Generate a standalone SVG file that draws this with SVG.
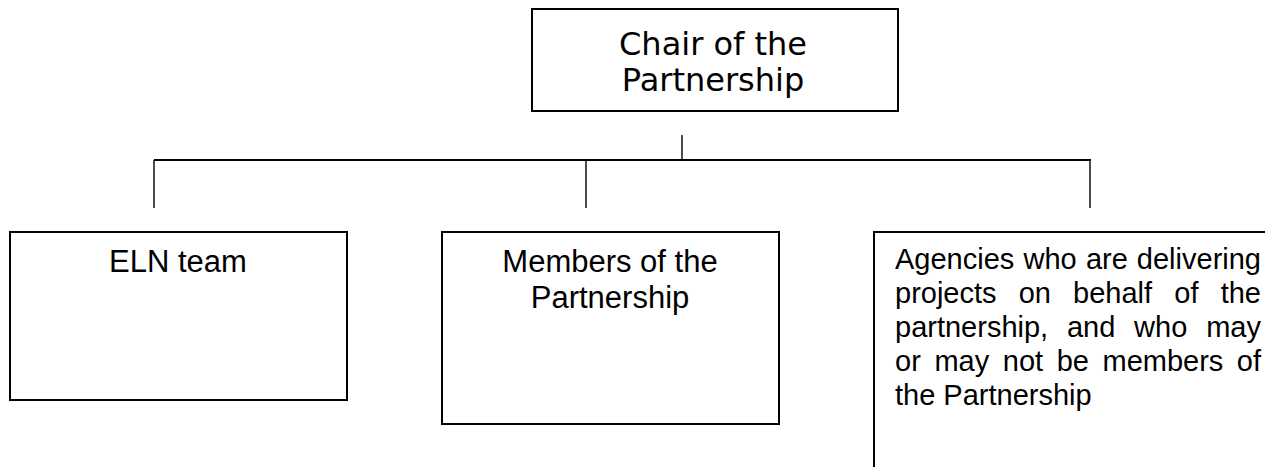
<svg xmlns="http://www.w3.org/2000/svg" width="1265" height="467" viewBox="0 0 1265 467">
  <style>
    .box { fill: #ffffff; stroke: #000000; stroke-width: 2; }
    .link { fill: none; stroke: #000000; stroke-width: 1.4; }
    .bar { fill: none; stroke: #000000; stroke-width: 2; }
    .chair { font-family: "DejaVu Sans", Verdana, sans-serif; font-size: 32px; fill: #000000; text-anchor: middle; }
    .lbl { font-family: "Liberation Sans", Arial, sans-serif; font-size: 31px; fill: #000000; text-anchor: middle; }
    .body { font-family: "Liberation Sans", Arial, sans-serif; font-size: 29px; fill: #000000; }
    .end { text-anchor: end; }
  </style>
  <rect width="1265" height="467" fill="#ffffff"/>

  <!-- connectors -->
  <g id="connectors">
    <line class="link" x1="682" y1="135" x2="682" y2="160"/>
    <line class="bar" x1="154" y1="160" x2="1091" y2="160"/>
    <line class="link" x1="154" y1="160" x2="154" y2="208"/>
    <line class="link" x1="586" y1="160" x2="586" y2="208"/>
    <line class="link" x1="1090" y1="160" x2="1090" y2="208"/>
  </g>

  <!-- top node -->
  <g id="chair">
    <rect class="box" x="532" y="9" width="366" height="102"/>
    <text class="chair" x="713" y="55">Chair of the</text>
    <text class="chair" x="713" y="91">Partnership</text>
  </g>

  <g id="eln-team">
    <rect class="box" x="10" y="232" width="337" height="168"/>
    <text class="lbl" x="178" y="272">ELN team</text>
  </g>

  <g id="members">
    <rect class="box" x="442" y="232" width="337" height="192"/>
    <text class="lbl" x="610" y="272">Members of the</text>
    <text class="lbl" x="610" y="308">Partnership</text>
  </g>

  <!-- justified paragraph, words placed per line -->
  <g id="agencies">
    <rect class="box" x="874" y="232" width="420" height="260"/>
    <text class="body" y="269"><tspan x="895">Agencies</tspan><tspan x="1023.5">who</tspan><tspan x="1085.9">are</tspan></text>
    <text class="body end" x="1261" y="269">delivering</text>
    <text class="body" y="303"><tspan x="895">projects</tspan><tspan x="1018.7">on</tspan><tspan x="1073.1">behalf</tspan><tspan x="1174.3">of</tspan></text>
    <text class="body end" x="1261" y="303">the</text>
    <text class="body" y="337"><tspan x="895">partnership,</tspan><tspan x="1066.9">and</tspan><tspan x="1134.1">who</tspan></text>
    <text class="body end" x="1261" y="337">may</text>
    <text class="body" y="371"><tspan x="895">or</tspan><tspan x="934.4">may</tspan><tspan x="1002.8">not</tspan><tspan x="1056.7">be</tspan><tspan x="1102.5">members</tspan></text>
    <text class="body end" x="1261" y="371">of</text>
    <text class="body" x="895" y="405">the Partnership</text>
  </g>
</svg>
